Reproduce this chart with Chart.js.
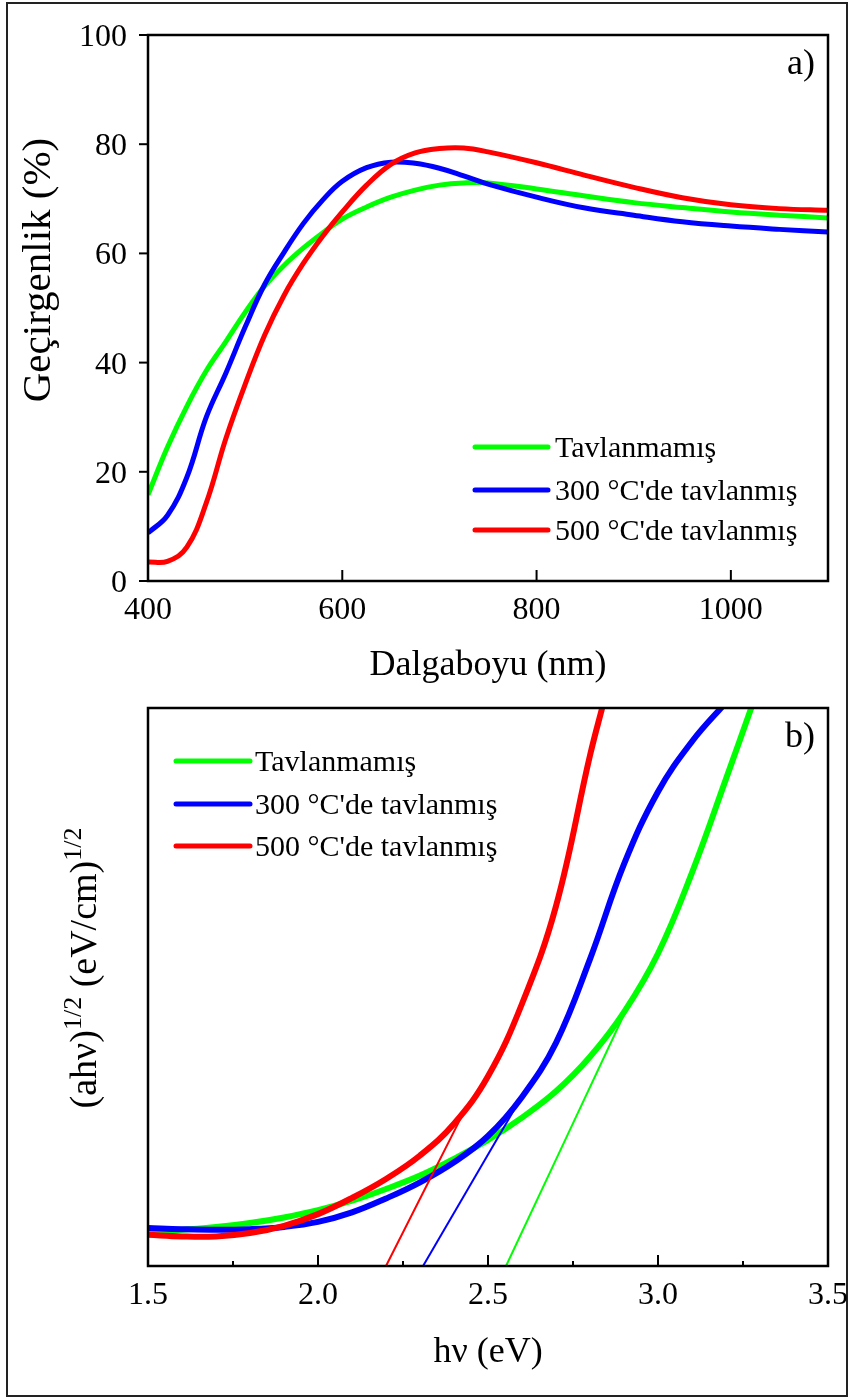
<!DOCTYPE html>
<html>
<head>
<meta charset="utf-8">
<script src="https://cdn.jsdelivr.net/npm/chart.js@4.4.1/dist/chart.umd.min.js"></script>
<style>
  body { margin: 0; background: #fff; }
  #wrap { position: relative; width: 851px; height: 1398px; overflow: hidden; }
  #frame { position: absolute; left: 6px; top: 2px; width: 838px; height: 1391px; border: 2px solid #222; }
  canvas { position: absolute; left: 0; }
  #chartA { top: 0; }
  #chartB { top: 700px; }
</style>
</head>
<body>
<div id="wrap">
  <div id="frame"></div>
  <canvas id="chartA" width="851" height="700"></canvas>
  <canvas id="chartB" width="851" height="698"></canvas>
</div>
<script>
// ---- data ----
const SERIES_NAMES = ['Tavlanmamış', '300 °C\'de tavlanmış', '500 °C\'de tavlanmış'];
const SERIES_COLORS = ['#00ff00', '#0000ff', '#ff0000'];

// a) transmittance vs wavelength
const WAVELENGTH = [400, 420, 440, 460, 480, 500, 520, 540, 560, 580, 600, 625, 650, 675, 700, 725, 750, 800, 850, 900, 950, 1000, 1050, 1100];
const T_UNANNEALED = [15.8, 24.5, 32, 38.5, 43.8, 49.2, 54, 57.8, 61, 63.8, 66.3, 68.5, 70.3, 71.6, 72.5, 72.9, 72.9, 71.8, 70.5, 69.3, 68.4, 67.6, 67, 66.5];
const T_300 = [8.8, 12, 19, 30, 38, 46.5, 54.3, 60.2, 65.5, 69.8, 73.2, 75.7, 76.7, 76.5, 75.6, 74.2, 72.7, 70.3, 68.3, 67, 65.8, 65, 64.4, 63.9];
const T_500 = [3.5, 3.6, 6.2, 14.3, 26, 36, 45, 52.3, 58.2, 63.2, 67.6, 72.5, 76.3, 78.4, 79.2, 79.3, 78.6, 76.6, 74.3, 72.1, 70.2, 68.9, 68.2, 67.9];
const X_TICKS_A = [400, 600, 800, 1000];
const Y_TICKS_A = [0, 20, 40, 60, 80, 100];

// b) Tauc plot (arbitrary units on y)
const HV_UNANNEALED = [1.5, 1.6, 1.7, 1.8, 1.9, 2.0, 2.1, 2.2, 2.3, 2.4, 2.5, 2.6, 2.7, 2.8, 2.9, 3.0, 3.1, 3.2, 3.28];
const AHV_UNANNEALED = [6.3, 6.5, 7.0, 7.7, 8.7, 10, 11.7, 13.8, 16.2, 19.2, 22.6, 26.6, 31.3, 37.5, 45.5, 56, 70.5, 87.3, 101];
const HV_300 = [1.5, 1.6, 1.7, 1.8, 1.9, 2.0, 2.1, 2.2, 2.3, 2.4, 2.5, 2.6, 2.7, 2.8, 2.9, 3.0, 3.1, 3.2];
const AHV_300 = [6.8, 6.6, 6.5, 6.6, 7.0, 7.9, 9.6, 12.1, 15, 18.6, 23.3, 30.3, 40, 55, 72, 85, 94, 101];
const HV_500 = [1.5, 1.6, 1.7, 1.8, 1.9, 2.0, 2.1, 2.2, 2.3, 2.4, 2.5, 2.6, 2.7, 2.8, 2.84];
const AHV_500 = [5.6, 5.3, 5.3, 5.9, 7.2, 9.3, 12.2, 15.6, 19.8, 25.5, 34, 47, 64.5, 91.5, 101];
// linear fits (band gap extrapolation)
const FIT_HV_UNANNEALED = [2.553, 2.915];
const FIT_AHV_UNANNEALED = [0, 47];
const FIT_HV_300 = [2.309, 2.615];
const FIT_AHV_300 = [0, 32];
const FIT_HV_500 = [2.2, 2.42];
const FIT_AHV_500 = [0, 26.5];
const X_TICKS_B = [1.5, 2.0, 2.5, 3.0, 3.5];
const X_MINOR_B = [1.75, 2.25, 2.75, 3.25];

const SERIF = '"Liberation Serif", "Times New Roman", serif';

function pts(xs, ys) {
  return xs.map(function(x, i) { return { x: x, y: ys[i] }; });
}

function curve(label, xs, ys, color, width, order) {
  return {
    label: label,
    data: pts(xs, ys),
    borderColor: color,
    backgroundColor: color,
    borderWidth: width,
    pointRadius: 0,
    tension: 0.4,
    order: order,
    clip: 0
  };
}

/**
 * Frame, inward/outward ticks, labels, titles and legend
 */
const axisDecor = {
  id: 'axisDecor',
  afterDraw: function(chart, args, o) {
    const ctx = chart.ctx;
    const a = chart.chartArea;
    const xs = chart.scales.x;
    const ys = chart.scales.y;

    function seg(x1, y1, x2, y2) {
      ctx.beginPath();
      ctx.moveTo(x1, y1);
      ctx.lineTo(x2, y2);
      ctx.stroke();
    }

    ctx.save();
    ctx.strokeStyle = '#000';
    ctx.lineWidth = 2.5;
    ctx.strokeRect(a.left, a.top, a.right - a.left, a.bottom - a.top);

    ctx.lineWidth = 2;
    o.xMajor.forEach(function(v) {
      const p = xs.getPixelForValue(v);
      seg(p, a.bottom, p, a.bottom - 11);
    });
    (o.xMinor || []).forEach(function(v) {
      const p = xs.getPixelForValue(v);
      seg(p, a.bottom, p, a.bottom - 5);
    });
    (o.yTicks || []).forEach(function(v) {
      const p = ys.getPixelForValue(v);
      seg(a.left - 9, p, a.left, p);
    });

    // tick labels
    ctx.fillStyle = '#000';
    ctx.font = '32px ' + SERIF;
    ctx.textAlign = 'center';
    ctx.textBaseline = 'alphabetic';
    o.xMajor.forEach(function(v) {
      ctx.fillText(o.fmtX(v), xs.getPixelForValue(v), a.bottom + 38);
    });
    ctx.textAlign = 'right';
    (o.yTicks || []).forEach(function(v) {
      ctx.fillText(String(v), a.left - 21, ys.getPixelForValue(v) + 11);
    });

    // x title
    ctx.font = '36px ' + SERIF;
    ctx.textAlign = 'center';
    ctx.fillText(o.xTitle, (a.left + a.right) / 2, o.xTitleY);

    // y title (rotated, with optional superscripts)
    ctx.save();
    ctx.translate(o.yTitleX, o.yTitleCY);
    ctx.rotate(-Math.PI / 2);
    ctx.textAlign = 'left';
    let total = 0;
    o.yTitle.forEach(function(part) {
      ctx.font = (part.sup ? o.supSize : o.titleSize) + 'px ' + SERIF;
      part.w = ctx.measureText(part.t).width;
      total += part.w;
    });
    let cx = -total / 2;
    o.yTitle.forEach(function(part) {
      ctx.font = (part.sup ? o.supSize : o.titleSize) + 'px ' + SERIF;
      ctx.fillText(part.t, cx, part.sup ? -15 : 0);
      cx += part.w;
    });
    ctx.restore();

    // panel label
    ctx.font = '36px ' + SERIF;
    ctx.textAlign = 'right';
    ctx.fillText(o.panel, a.right - 13, a.top + 39);

    // legend
    const lg = o.legend;
    ctx.font = '30px ' + SERIF;
    ctx.textAlign = 'left';
    ctx.lineCap = 'round';
    ctx.lineWidth = 5;
    SERIES_NAMES.forEach(function(name, i) {
      const y = lg.y[i];
      ctx.strokeStyle = SERIES_COLORS[i];
      seg(lg.x1, y, lg.x2, y);
      ctx.fillText(name, lg.textX, y + 10);
    });
    ctx.restore();
  }
};

function baseOptions(xMin, xMax, yMin, yMax, padTop, xHeight, decor) {
  return {
    responsive: false,
    animation: false,
    layout: { padding: { top: padTop, right: 23, left: 0, bottom: 0 } },
    plugins: {
      legend: { display: false },
      tooltip: { enabled: false },
      axisDecor: decor
    },
    scales: {
      x: {
        type: 'linear', min: xMin, max: xMax,
        grid: { display: false }, border: { display: false },
        ticks: { display: false },
        afterFit: function(s) { s.height = xHeight; }
      },
      y: {
        type: 'linear', min: yMin, max: yMax,
        grid: { display: false }, border: { display: false },
        ticks: { display: false },
        afterFit: function(s) { s.width = 148; }
      }
    }
  };
}

// a) transmittance
new Chart(document.getElementById('chartA'), {
  type: 'line',
  data: {
    datasets: [
      curve(SERIES_NAMES[0], WAVELENGTH, T_UNANNEALED, SERIES_COLORS[0], 5, 3),
      curve(SERIES_NAMES[1], WAVELENGTH, T_300, SERIES_COLORS[1], 5, 2),
      curve(SERIES_NAMES[2], WAVELENGTH, T_500, SERIES_COLORS[2], 5, 1)
    ]
  },
  options: baseOptions(400, 1100, 0, 100, 35, 119, {
    xMajor: X_TICKS_A,
    xMinor: [],
    yTicks: Y_TICKS_A,
    fmtX: function(v) { return String(v); },
    xTitle: 'Dalgaboyu (nm)',
    xTitleY: 675,
    yTitle: [{ t: 'Geçirgenlik (%)' }],
    titleSize: 41,
    supSize: 28,
    yTitleX: 50,
    yTitleCY: 270,
    panel: 'a)',
    legend: { x1: 475, x2: 548, textX: 555, y: [447, 490, 530] }
  }),
  plugins: [axisDecor]
});

// b) Tauc plot
new Chart(document.getElementById('chartB'), {
  type: 'line',
  data: {
    datasets: [
      curve(SERIES_NAMES[0], HV_UNANNEALED, AHV_UNANNEALED, SERIES_COLORS[0], 6, 3),
      curve(SERIES_NAMES[1], HV_300, AHV_300, SERIES_COLORS[1], 6, 2),
      curve(SERIES_NAMES[2], HV_500, AHV_500, SERIES_COLORS[2], 6, 1),
      curve('fit0', FIT_HV_UNANNEALED, FIT_AHV_UNANNEALED, SERIES_COLORS[0], 2, 0),
      curve('fit1', FIT_HV_300, FIT_AHV_300, SERIES_COLORS[1], 2, 0),
      curve('fit2', FIT_HV_500, FIT_AHV_500, SERIES_COLORS[2], 2, 0)
    ]
  },
  options: baseOptions(1.5, 3.5, 0, 100, 8, 132, {
    xMajor: X_TICKS_B,
    xMinor: X_MINOR_B,
    yTicks: [],
    fmtX: function(v) { return v.toFixed(1); },
    xTitle: 'hν (eV)',
    xTitleY: 662,
    yTitle: [{ t: '(ahν)' }, { t: '1/2', sup: true }, { t: ' (eV/cm)' }, { t: '1/2', sup: true }],
    titleSize: 38,
    supSize: 26,
    yTitleX: 96,
    yTitleCY: 268,
    panel: 'b)',
    legend: { x1: 176, x2: 250, textX: 255, y: [61, 104, 146] }
  }),
  plugins: [axisDecor]
});
</script>
</body>
</html>
